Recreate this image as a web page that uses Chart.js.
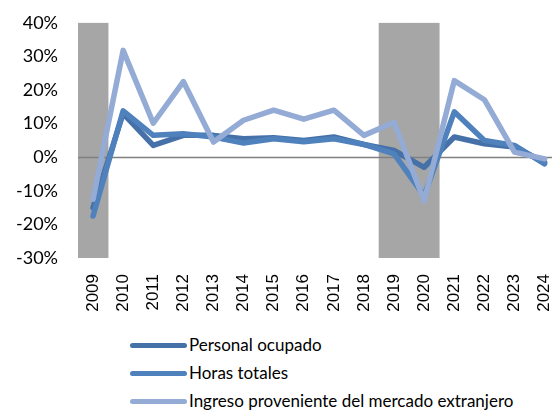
<!DOCTYPE html>
<html>
<head>
<meta charset="utf-8">
<script src="https://cdn.jsdelivr.net/npm/chart.js@4"></script>
<style>
  html, body { margin: 0; padding: 0; background: #fff; overflow: hidden; width: 552px; height: 410px; }
  #wrap { position: absolute; left: 0; top: 0; width: 573px; height: 320px; }
  #legend { position: absolute; left: 130px; top: 331px; font-family: Lato, sans-serif; font-size: 17px; color: #000; }
  .item { height: 28px; line-height: 28px; display: flex; align-items: center; }
  .mark { width: 57px; height: 5px; border-radius: 3px; margin-right: 2px; }
</style>
</head>
<body>
<div id="wrap"><canvas id="chart" width="573" height="320"></canvas></div>
<div id="legend"></div>
<script>
// series colours
const DARK = "#4571a8";
const MID = "#4f81bd";
const LIGHT = "#93abd5";
const SHADE = "#a6a6a6";

const YEARS = ["2009","2010","2011","2012","2013","2014","2015","2016","2017","2018","2019","2020","2021","2022","2023","2024"];
const PERSONAL = [-15, 13, 3.5, 6.5, 6.5, 5.5, 5.8, 5, 6, 3.8, 2, -3, 6, 4, 3, -1.5];
const HORAS = [-17.5, 13.8, 6.5, 7, 6, 4.2, 5.5, 4.6, 5.5, 3.8, 1, -11.5, 13.5, 5, 3.5, -2];
const INGRESO = [-12.5, 31.8, 10.1, 22.5, 4.5, 11, 14, 11.3, 14, 6.5, 10.4, -13, 22.8, 17.1, 1.5, -0.5];
// años sombreados (recesión)
const SHADED = [true, false, false, false, false, false, false, false, false, false, true, true, false, false, false, false];
const Y_MIN = -30, Y_MAX = 40;

const SERIES = [
  { label: "Personal ocupado", data: PERSONAL, color: DARK, order: 3 },
  { label: "Horas totales", data: HORAS, color: MID, order: 2 },
  { label: "Ingreso proveniente del mercado extranjero", data: INGRESO, color: LIGHT, order: 1 },
];

// línea del cero, encima de las barras grises y debajo de las líneas
const zeroLine = {
  id: "zeroLine",
  afterDatasetDraw(chart, args) {
    if (args.index !== 0) return;
    const { ctx, chartArea, scales } = chart;
    const y = Math.round(scales.y.getPixelForValue(0)) + 0.5;
    ctx.save();
    ctx.strokeStyle = "#808080";
    ctx.lineWidth = 1.5;
    ctx.beginPath();
    ctx.moveTo(chartArea.left, y);
    ctx.lineTo(chartArea.right, y);
    ctx.stroke();
    ctx.restore();
  }
};

const datasets = [{
  type: "bar",
  label: "shade",
  data: SHADED.map(s => s ? [Y_MIN, Y_MAX] : null),
  backgroundColor: SHADE,
  borderWidth: 0,
  barPercentage: 1,
  categoryPercentage: 1,
  order: 10,
}].concat(SERIES.map(s => ({
  type: "line",
  label: s.label,
  data: s.data,
  borderColor: s.color,
  backgroundColor: s.color,
  borderWidth: 5.5,
  borderCapStyle: "round",
  borderJoinStyle: "round",
  pointRadius: 0,
  tension: 0,
  fill: false,
  order: s.order,
})));

new Chart(document.getElementById("chart"), {
  data: { labels: YEARS, datasets },
  plugins: [zeroLine],
  options: {
    responsive: false,
    animation: false,
    layout: { padding: { top: 15, right: 0, bottom: 0, left: 0 } },
    plugins: { legend: { display: false }, tooltip: { enabled: false } },
    scales: {
      x: {
        grid: { display: false },
        border: { display: false },
        ticks: {
          color: "#000",
          font: { family: "Liberation Sans", size: 17 },
          minRotation: 90, maxRotation: 90,
          padding: 8,
          autoSkip: false,
        },
        afterFit: (s) => { s.height = 62; },
      },
      y: {
        min: Y_MIN, max: Y_MAX,
        grid: { display: false },
        border: { display: false },
        ticks: {
          stepSize: 10,
          color: "#000",
          font: { family: "Lato", size: 18 },
          padding: 12,
          callback: (v) => v + "%",
        },
        afterFit: (s) => { s.width = 78; },
      },
    },
  },
});

// leyenda vertical
const legendEl = document.getElementById("legend");
SERIES.forEach(s => {
  const row = document.createElement("div");
  row.className = "item";
  row.innerHTML = `<span class="mark" style="background:${s.color}"></span><span>${s.label}</span>`;
  legendEl.appendChild(row);
});
</script>
</body>
</html>
